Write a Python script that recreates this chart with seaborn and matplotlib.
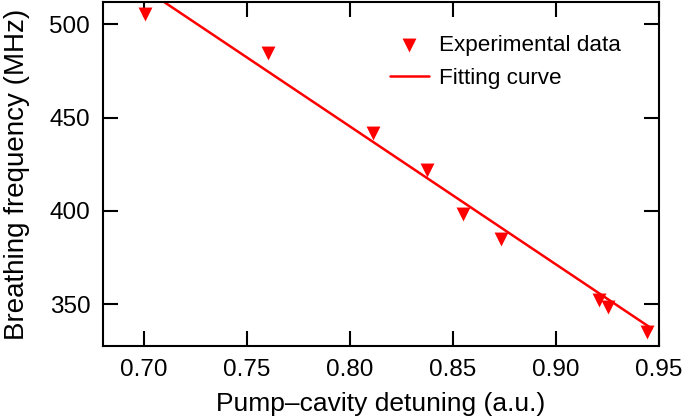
import numpy as np
import pandas as pd
import matplotlib
matplotlib.use("Agg")
import matplotlib.pyplot as plt
import seaborn as sns

# -----------------------------
# Data
# -----------------------------
detuning = [0.7007, 0.760, 0.811, 0.8375, 0.8547, 0.8732, 0.9207, 0.9254, 0.9443]
frequency = [505.4, 484.6, 441.8, 421.8, 398.6, 385.2, 352.1, 348.5, 335.1]

fit_detuning = [0.700, 0.9465]
fit_frequency = [519.3, 336.9]

x_ticks = [0.70, 0.75, 0.80, 0.85, 0.90, 0.95]
y_ticks = [350, 400, 450, 500]

RED = "#ff0000"

# -----------------------------
# Style
# -----------------------------
sns.set_theme(style="ticks")
plt.rcParams["font.family"] = ["Liberation Sans", "DejaVu Sans"]
plt.rcParams.update({
    "axes.linewidth": 1.5,
    "axes.edgecolor": "black",
    "axes.labelcolor": "black",
    "text.color": "black",
    "xtick.color": "black",
    "ytick.color": "black",
})

df = pd.DataFrame({"detuning": detuning, "frequency": frequency})
df_fit = pd.DataFrame({"detuning": fit_detuning, "frequency": fit_frequency})

fig, ax = plt.subplots(figsize=(6.85, 4.19), dpi=100)
fig.subplots_adjust(left=0.150, right=0.962, top=0.995, bottom=0.174)

sns.scatterplot(data=df, x="detuning", y="frequency", marker="v", s=100,
                color=RED, edgecolor=RED, linewidth=0, ax=ax,
                label="Experimental data", zorder=3)
sns.lineplot(data=df_fit, x="detuning", y="frequency", color=RED,
             linewidth=1.8, ax=ax, label="Fitting curve")

ax.set_xlim(0.68, 0.95)
ax.set_ylim(327.5, 512)
ax.set_xticks(x_ticks)
ax.set_xticklabels([f"{t:.2f}" for t in x_ticks])
ax.set_yticks(y_ticks)

ax.tick_params(direction="in", length=11, width=1.5, labelsize=17.5,
               top=True, right=True, pad=9)
ax.set_xlabel("Pump\u2013cavity detuning (a.u.)", fontsize=19, labelpad=8)
ax.set_ylabel("Breathing frequency (MHz)", fontsize=20, labelpad=14)

ax.legend(loc="upper left", bbox_to_anchor=(0.516, 0.905), frameon=False,
          borderpad=0, fontsize=16.2, handlelength=1.75, handletextpad=0.45,
          labelspacing=0.55, borderaxespad=0)

fig.savefig("out.png", dpi=100)
